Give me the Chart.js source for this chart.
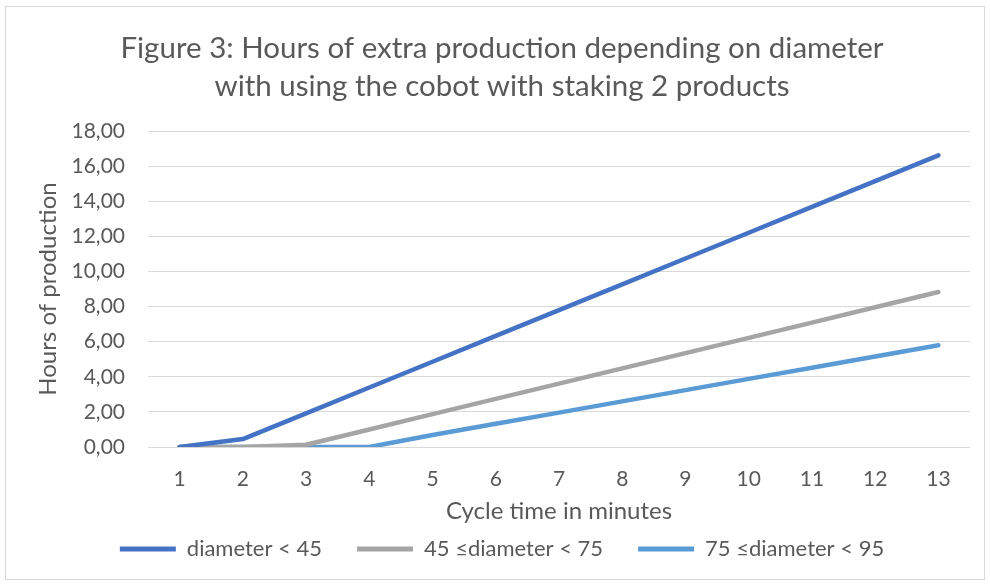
<!DOCTYPE html>
<html>
<head>
<meta charset="utf-8">
<script src="https://cdn.jsdelivr.net/npm/chart.js@4.4.1/dist/chart.umd.min.js"></script>
<style>
  html, body { margin: 0; padding: 0; background: #fff; }
  #wrap { position: relative; width: 990px; height: 586px; }
</style>
</head>
<body>
<div id="wrap"><canvas id="myChart" width="990" height="586"></canvas></div>
<script>
let cycleTimes = ['1', '2', '3', '4', '5', '6', '7', '8', '9', '10', '11', '12', '13'];

let diameterUnder45 = [0, 0.45, 1.92, 3.39, 4.86, 6.33, 7.80, 9.27, 10.74, 12.21, 13.68, 15.15, 16.62];
let diameter45to75 = [0, 0, 0.13, 1.00, 1.87, 2.74, 3.61, 4.48, 5.35, 6.22, 7.09, 7.96, 8.83];
let diameter75to95 = [0, 0, 0, 0, 0.68, 1.32, 1.96, 2.60, 3.24, 3.88, 4.52, 5.16, 5.80];

const textColor = '#595959';
const fontName = 'Lato, "Noto Sans", sans-serif';

// white background + thin frame like the office chart
const frame = {
  id: 'frame',
  beforeDraw(chart) {
    const c = chart.ctx;
    c.save();
    c.fillStyle = '#fff';
    c.fillRect(0, 0, chart.width, chart.height);
    c.strokeStyle = '#d9d9d9';
    c.lineWidth = 1;
    c.strokeRect(5.5, 6.5, 979, 573);
    c.restore();
  }
};

// legend padding is used both between items and above/below them,
// so shrink its box and pull it up a bit
const LEGEND_H = 50;
const LEGEND_SHIFT = 27;
const legendFix = {
  id: 'legendFix',
  beforeLayout(chart) {
    const lg = chart.legend;
    if (lg && !lg._patched) {
      const fit = lg.fit;
      lg.fit = function () { fit.call(this); this.height = LEGEND_H; };
      lg._patched = true;
    }
  },
  afterLayout(chart) {
    chart.legend.top -= LEGEND_SHIFT;
  }
};

let chartElement = document.getElementById('myChart').getContext('2d');

let myChart = new Chart(chartElement, {
  type: 'line',
  data: {
    labels: cycleTimes,
    datasets: [{
      label: 'diameter < 45',
      data: diameterUnder45,
      borderColor: '#4472C4',
      backgroundColor: '#4472C4'
    }, {
      label: '45 \u2264diameter < 75',
      data: diameter45to75,
      borderColor: '#A5A5A5',
      backgroundColor: '#A5A5A5'
    }, {
      label: '75 \u2264diameter < 95',
      data: diameter75to95,
      borderColor: '#5B9BD5',
      backgroundColor: '#5B9BD5'
    }]
  },
  options: {
    responsive: false,
    animation: false,
    devicePixelRatio: 1,
    layout: { padding: { left: 34, right: 20, top: 0, bottom: 6 } },
    elements: {
      line: { borderWidth: 4.5, tension: 0, borderCapStyle: 'round', borderJoinStyle: 'round' },
      // points are hidden, border width only feeds the legend swatch
      point: { radius: 0, borderWidth: 5 }
    },
    plugins: {
      title: {
        display: true,
        text: ['Figure 3: Hours of extra production depending on diameter', 'with using the cobot with staking 2 products'],
        color: textColor,
        font: { family: fontName, size: 29.5, weight: 'normal', lineHeight: 1.29 },
        padding: { top: 29, bottom: 26 }
      },
      legend: {
        position: 'bottom',
        labels: {
          color: textColor,
          font: { family: fontName, size: 22 },
          usePointStyle: true,
          pointStyle: 'line',
          pointStyleWidth: 56,
          boxHeight: 5,
          padding: 35
        }
      },
      tooltip: { enabled: false }
    },
    scales: {
      x: {
        offset: true,
        afterFit(scale) { scale.height = 83; },
        grid: { display: false, drawTicks: false },
        border: { display: false },
        ticks: { color: textColor, font: { family: fontName, size: 21 }, padding: 20 },
        title: {
          display: true,
          text: 'Cycle time in minutes',
          color: textColor,
          font: { family: fontName, size: 24 },
          padding: { top: 5, bottom: 4 }
        }
      },
      y: {
        min: 0,
        max: 18,
        afterFit(scale) { scale.width = 114; },
        grid: { color: '#d9d9d9', lineWidth: 1, drawTicks: false },
        border: { display: false },
        ticks: {
          stepSize: 2,
          color: textColor,
          font: { family: fontName, size: 21 },
          padding: 23,
          callback: v => v.toFixed(2).replace('.', ',')
        },
        title: {
          display: true,
          text: 'Hours of production',
          color: textColor,
          font: { family: fontName, size: 24 },
          padding: { top: 0, bottom: 4 }
        }
      }
    }
  },
  plugins: [frame, legendFix]
});
</script>
</body>
</html>
